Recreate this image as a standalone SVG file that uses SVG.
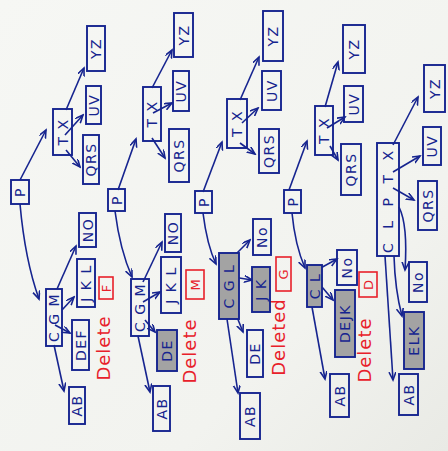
<svg xmlns="http://www.w3.org/2000/svg" width="448" height="451" viewBox="0 0 448 451">
<defs>
<linearGradient id="bg" x1="0" y1="0" x2="1" y2="1">
<stop offset="0" stop-color="#f6f7f4"/>
<stop offset="0.7" stop-color="#f2f3ef"/>
<stop offset="1" stop-color="#e9eae5"/>
</linearGradient>
<marker id="ah" markerWidth="10" markerHeight="8" refX="8" refY="3.5" orient="auto" markerUnits="userSpaceOnUse">
<path d="M0,0 L8,3.5 L0,7" fill="none" stroke="#16248f" stroke-width="1.6"/>
</marker>
<style>
.n rect{fill:none;stroke:#16248f;stroke-width:1.9}
.n rect.s{fill:#a3a3a3}
.n text{font-family:"DejaVu Sans",sans-serif;font-size:14px;fill:#16248f;text-anchor:middle;dominant-baseline:central;letter-spacing:1.5px}
.c path{fill:none;stroke:#16248f;stroke-width:1.6;marker-end:url(#ah)}
.r text{font-family:"DejaVu Sans",sans-serif;font-size:18px;fill:#e8202a;text-anchor:middle;dominant-baseline:central;letter-spacing:1px}
.r rect{fill:none;stroke:#e8202a;stroke-width:1.6}
</style>
</defs>
<rect width="448" height="451" fill="url(#bg)"/>

<g id="connectors" class="c">
<path d="M20,180 L46,130"/>
<path d="M66,110 L84,68"/>
<path d="M65,135 L83,115"/>
<path d="M66,150 L80,167"/>
<path d="M20,204 Q25,260 39,299"/>
<path d="M57,289 L76,246"/>
<path d="M62,310 L74,297"/>
<path d="M55,325 L70,333"/>
<path d="M54,345 L64,391"/>

<path d="M118,190 L136,139"/>
<path d="M152,88 L172,50"/>
<path d="M153,113 L172,103"/>
<path d="M152,138 L165,158"/>
<path d="M115,211 Q120,250 132,277"/>
<path d="M143,282 L162,242"/>
<path d="M143,302 L160,292"/>
<path d="M145,320 L155,332"/>
<path d="M138,336 L150,392"/>

<path d="M203,192 L222,142"/>
<path d="M240,100 L259,57"/>
<path d="M242,123 L258,108"/>
<path d="M240,143 L255,154"/>
<path d="M203,213 Q207,245 216,264"/>
<path d="M233,257 L250,240"/>
<path d="M233,277 L252,280"/>
<path d="M237,317 L243,332"/>
<path d="M227,319 L238,393"/>

<path d="M289,190 L307,141"/>
<path d="M325,107 L338,62"/>
<path d="M327,128 L345,117"/>
<path d="M330,146 L338,160"/>
<path d="M292,213 Q295,245 305,268"/>
<path d="M317,270 L337,259"/>
<path d="M322,287 L333,300"/>
<path d="M312,307 L325,379"/>

<path d="M393,145 L418,97"/>
<path d="M393,172 L420,156"/>
<path d="M393,188 L414,200"/>
<path d="M399,207 Q408,225 405,270"/>
<path d="M394,256 Q395,290 402,316"/>
<path d="M385,256 L393,380"/>
</g>

<!-- Column 1 -->
<g id="c1-P" class="n"><rect x="11" y="180" width="18" height="24"/><text transform="translate(20,192) rotate(-90)">P</text></g>
<g id="c1-TX" class="n"><rect x="53" y="109" width="19" height="46"/><text transform="translate(62.5,132) rotate(-90)">T X</text></g>
<g id="c1-YZ" class="n"><rect x="87" y="26" width="18" height="45"/><text transform="translate(96,48.5) rotate(-90)">YZ</text></g>
<g id="c1-UV" class="n"><rect x="86" y="86" width="15" height="38"/><text transform="translate(93.5,105) rotate(-90)">UV</text></g>
<g id="c1-QRS" class="n"><rect x="83" y="135" width="16" height="49"/><text transform="translate(91,159.5) rotate(-90)">QRS</text></g>
<g id="c1-NO" class="n"><rect x="79" y="213" width="17" height="34"/><text transform="translate(87.5,230) rotate(-90)">NO</text></g>
<g id="c1-JKL" class="n"><rect x="77" y="259" width="18" height="48"/><text transform="translate(86,283) rotate(-90)">J K L</text></g>
<g id="c1-CGM" class="n"><rect x="46" y="289" width="16" height="57"/><text transform="translate(54,317.5) rotate(-90)">C G M</text></g>
<g id="c1-DEF" class="n"><rect x="72" y="320" width="17" height="50"/><text transform="translate(80.5,345) rotate(-90)">DEF</text></g>
<g id="c1-AB" class="n"><rect x="69" y="387" width="16" height="37"/><text transform="translate(77,405.5) rotate(-90)">AB</text></g>
<g id="c1-del" class="r"><text transform="translate(103,348) rotate(-90)">Delete</text><rect x="99" y="277" width="14" height="22"/><text transform="translate(106,288) rotate(-90)" style="font-size:13px">F</text></g>

<!-- Column 2 -->
<g id="c2-P" class="n"><rect x="108" y="189" width="17" height="22"/><text transform="translate(116.5,200) rotate(-90)">P</text></g>
<g id="c2-TX" class="n"><rect x="143" y="87" width="18" height="54"/><text transform="translate(152,114) rotate(-90)">T X</text></g>
<g id="c2-YZ" class="n"><rect x="174" y="13" width="19" height="44"/><text transform="translate(183.5,35) rotate(-90)">YZ</text></g>
<g id="c2-UV" class="n"><rect x="173" y="71" width="16" height="40"/><text transform="translate(181,91) rotate(-90)">UV</text></g>
<g id="c2-QRS" class="n"><rect x="169" y="129" width="20" height="53"/><text transform="translate(179,155.5) rotate(-90)">QRS</text></g>
<g id="c2-NO" class="n"><rect x="165" y="214" width="16" height="38"/><text transform="translate(173,233) rotate(-90)">NO</text></g>
<g id="c2-JKL" class="n"><rect x="161" y="257" width="20" height="56"/><text transform="translate(171,285) rotate(-90)">J K L</text></g>
<g id="c2-CGM" class="n"><rect x="131" y="279" width="18" height="57"/><text transform="translate(140,307.5) rotate(-90)">C G M</text></g>
<g id="c2-DE" class="n"><rect class="s" x="157" y="330" width="20" height="41"/><text transform="translate(167,350.5) rotate(-90)">DE</text></g>
<g id="c2-AB" class="n"><rect x="153" y="386" width="17" height="45"/><text transform="translate(161.5,408.5) rotate(-90)">AB</text></g>
<g id="c2-del" class="r"><text transform="translate(189,351) rotate(-90)">Delete</text><rect x="186" y="270" width="18" height="29"/><text transform="translate(195,284.5) rotate(-90)" style="font-size:13px">M</text></g>

<!-- Column 3 -->
<g id="c3-P" class="n"><rect x="195" y="191" width="17" height="22"/><text transform="translate(203.5,202) rotate(-90)">P</text></g>
<g id="c3-TX" class="n"><rect x="227" y="99" width="20" height="49"/><text transform="translate(237,123.5) rotate(-90)">T X</text></g>
<g id="c3-YZ" class="n"><rect x="263" y="11" width="20" height="50"/><text transform="translate(273,36) rotate(-90)">YZ</text></g>
<g id="c3-UV" class="n"><rect x="262" y="71" width="19" height="39"/><text transform="translate(271.5,90.5) rotate(-90)">UV</text></g>
<g id="c3-QRS" class="n"><rect x="259" y="129" width="20" height="44"/><text transform="translate(269,151) rotate(-90)">QRS</text></g>
<g id="c3-NO" class="n"><rect x="253" y="219" width="18" height="36"/><text transform="translate(262,237) rotate(-90)">No</text></g>
<g id="c3-JK" class="n"><rect class="s" x="252" y="267" width="18" height="45"/><text transform="translate(261,289.5) rotate(-90)">J K</text></g>
<g id="c3-CGL" class="n"><rect class="s" x="219" y="253" width="20" height="66"/><text transform="translate(229,286) rotate(-90)">C G L</text></g>
<g id="c3-DE" class="n"><rect x="247" y="330" width="16" height="47"/><text transform="translate(255,353.5) rotate(-90)">DE</text></g>
<g id="c3-AB" class="n"><rect x="240" y="393" width="20" height="46"/><text transform="translate(250,416) rotate(-90)">AB</text></g>
<g id="c3-del" class="r"><text transform="translate(278,337) rotate(-90)">Deleted</text><rect x="276" y="257" width="15" height="34"/><text transform="translate(283.5,274) rotate(-90)" style="font-size:13px">G</text></g>

<!-- Column 4 -->
<g id="c4-P" class="n"><rect x="284" y="190" width="17" height="23"/><text transform="translate(292.5,201.5) rotate(-90)">P</text></g>
<g id="c4-TX" class="n"><rect x="315" y="106" width="18" height="49"/><text transform="translate(324,130.5) rotate(-90)">T X</text></g>
<g id="c4-YZ" class="n"><rect x="343" y="25" width="22" height="48"/><text transform="translate(354,49) rotate(-90)">YZ</text></g>
<g id="c4-UV" class="n"><rect x="344" y="86" width="19" height="36"/><text transform="translate(353.5,104) rotate(-90)">UV</text></g>
<g id="c4-QRS" class="n"><rect x="341" y="144" width="20" height="51"/><text transform="translate(351,169.5) rotate(-90)">QRS</text></g>
<g id="c4-NO" class="n"><rect x="337" y="250" width="20" height="35"/><text transform="translate(347,267.5) rotate(-90)">No</text></g>
<g id="c4-CL" class="n"><rect class="s" x="307" y="265" width="15" height="42"/><text transform="translate(314.5,286) rotate(-90)">C L</text></g>
<g id="c4-DEJK" class="n"><rect class="s" x="335" y="290" width="20" height="67"/><text transform="translate(345,323.5) rotate(-90)">DEJK</text></g>
<g id="c4-AB" class="n"><rect x="330" y="374" width="19" height="43"/><text transform="translate(339.5,395.5) rotate(-90)">AB</text></g>
<g id="c4-del" class="r"><text transform="translate(364,350) rotate(-90)">Delete</text><rect x="359" y="272" width="18" height="25"/><text transform="translate(368,284.5) rotate(-90)" style="font-size:13px">D</text></g>

<!-- Column 5 -->
<g id="c5-YZ" class="n"><rect x="424" y="65" width="21" height="47"/><text transform="translate(434.5,88.5) rotate(-90)">YZ</text></g>
<g id="c5-UV" class="n"><rect x="423" y="127" width="18" height="38"/><text transform="translate(432,146) rotate(-90)">UV</text></g>
<g id="c5-QRS" class="n"><rect x="418" y="181" width="19" height="49"/><text transform="translate(427.5,205.5) rotate(-90)">QRS</text></g>
<g id="c5-CLPTX" class="n"><rect x="377" y="143" width="22" height="113"/><text transform="translate(388,199.5) rotate(-90)" style="letter-spacing:5px">C L P T X</text></g>
<g id="c5-NO" class="n"><rect x="409" y="262" width="18" height="40"/><text transform="translate(418,282) rotate(-90)">No</text></g>
<g id="c5-ELK" class="n"><rect class="s" x="404" y="312" width="20" height="57"/><text transform="translate(414,340.5) rotate(-90)">ELK</text></g>
<g id="c5-AB" class="n"><rect x="399" y="374" width="19" height="41"/><text transform="translate(408.5,394.5) rotate(-90)">AB</text></g>
</svg>
